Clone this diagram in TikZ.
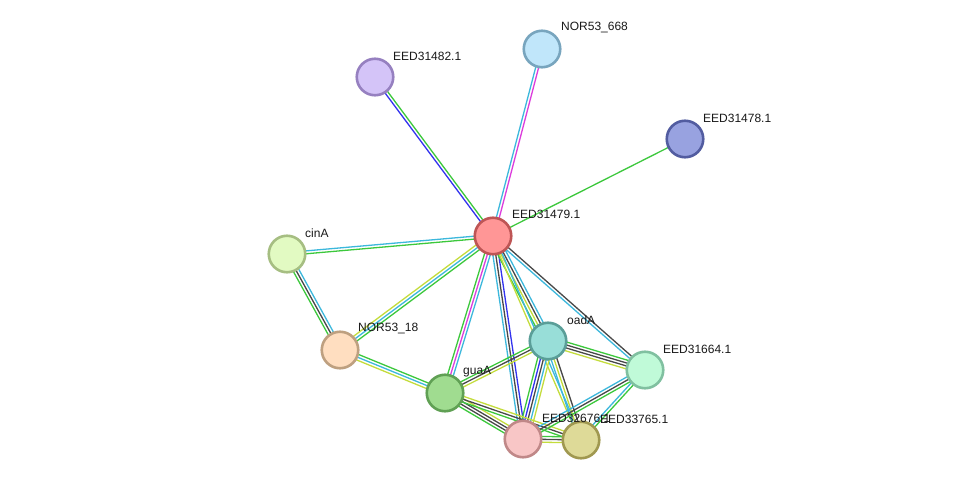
\documentclass[tikz,border=0pt]{standalone}
\usepackage{fontspec}
\setmainfont{Liberation Sans}
\usetikzlibrary{calc,backgrounds}
\definecolor{sgreen}{HTML}{3CC83C}
\definecolor{scyan}{HTML}{3CB8DC}
\definecolor{sblue}{HTML}{3232EE}
\definecolor{smag}{HTML}{DC3CDC}
\definecolor{sblack}{HTML}{484848}
\definecolor{syel}{HTML}{C4DC3C}
\tikzset{
  prot/.style={circle, minimum size=36.5pt, inner sep=0pt, line width=2.6pt},
  lbl/.style={anchor=west, font=\fontsize{12pt}{14pt}\selectfont, inner sep=0pt, text=black!90},
}
\newcommand\stredge[4]{%
  \foreach \cc [count=\ii] in {#4} {%
    \pgfmathsetmacro\off{(\ii-(#3+1)/2)*2.9}%
    \draw[color=\cc, line width=1.3pt] ($(#1)!\off pt!90:(#2)$) -- ($(#2)!\off pt!-90:(#1)$);
  }%
}
\begin{document}
\begin{tikzpicture}[x=1pt,y=-1pt]
\useasboundingbox (0,0) rectangle (976,486);
% nodes
\node[prot, fill={rgb,255:red,255;green,150;blue,150}, draw={rgb,255:red,190;green,85;blue,85}] (c) at (493,236) {};
\node[prot, fill={rgb,255:red,192;green,230;blue,250}, draw={rgb,255:red,120;green,165;blue,190}] (n668) at (542,49) {};
\node[prot, fill={rgb,255:red,212;green,196;blue,248}, draw={rgb,255:red,150;green,128;blue,192}] (e82) at (375,77) {};
\node[prot, fill={rgb,255:red,152;green,162;blue,224}, draw={rgb,255:red,82;green,92;blue,160}] (e78) at (685,139) {};
\node[prot, fill={rgb,255:red,226;green,250;blue,194}, draw={rgb,255:red,166;green,190;blue,130}] (cina) at (287,254) {};
\node[prot, fill={rgb,255:red,255;green,222;blue,192}, draw={rgb,255:red,190;green,160;blue,128}] (n18) at (340,350) {};
\node[prot, fill={rgb,255:red,160;green,220;blue,144}, draw={rgb,255:red,96;green,160;blue,84}] (guaa) at (445,393) {};
\node[prot, fill={rgb,255:red,152;green,222;blue,216}, draw={rgb,255:red,90;green,158;blue,152}] (oada) at (548,341) {};
\node[prot, fill={rgb,255:red,192;green,250;blue,216}, draw={rgb,255:red,128;green,192;blue,160}] (e64) at (645,370) {};
\node[prot, fill={rgb,255:red,248;green,198;blue,198}, draw={rgb,255:red,192;green,136;blue,136}] (e76) at (523,439) {};
\node[prot, fill={rgb,255:red,222;green,218;blue,152}, draw={rgb,255:red,160;green,152;blue,80}] (e65) at (581,440) {};
% labels
\node[lbl] (l1) at (512,214) {EED31479.1};
\node[lbl] (l2) at (561,28) {NOR53\_668};
\node[lbl] (l3) at (393,56) {EED31482.1};
\node[lbl] (l4) at (703,118) {EED31478.1};
\node[lbl] (l5) at (305,233) {cinA};
\node[lbl] (l6) at (358,329) {NOR53\_18};
\node[lbl] (l7) at (463,372) {guaA};
\node[lbl] (l8) at (567,320) {oadA};
\node[lbl] (l9) at (663,349) {EED31664.1};
\node[lbl] (l10) at (542,418) {EED32676.1};
\node[lbl] (l11) at (600,419) {EED33765.1};
\begin{pgfonlayer}{background}
\fill[white] (0,0) rectangle (976,486);
\stredge{c}{e82}{2}{sgreen,sblue}
\stredge{c}{n668}{2}{smag,scyan}
\stredge{c}{e78}{1}{sgreen}
\stredge{c}{cina}{2}{scyan,sgreen}
\stredge{cina}{n18}{3}{sgreen,sblack,scyan}
\stredge{c}{n18}{3}{syel,scyan,sgreen}
\stredge{n18}{guaa}{3}{syel,scyan,sgreen}
\stredge{c}{guaa}{3}{sgreen,smag,scyan}
\stredge{c}{e76}{3}{scyan,sblack,sblue}
\stredge{c}{oada}{4}{sgreen,syel,sblack,scyan}
\stredge{c}{e65}{2}{syel,scyan}
\stredge{c}{e64}{2}{scyan,sblack}
\stredge{oada}{guaa}{3}{sgreen,sblack,syel}
\stredge{oada}{e64}{4}{syel,sblack,sblack,sgreen}
\stredge{oada}{e76}{5}{sgreen,sblue,sblack,scyan,syel}
\stredge{oada}{e65}{3}{scyan,syel,sblack}
\stredge{guaa}{e76}{4}{sgreen,sblack,sblack,syel}
\stredge{guaa}{e65}{3}{sgreen,sblack,syel}
\stredge{e64}{e76}{3}{scyan,sblack,sgreen}
\stredge{e64}{e65}{2}{scyan,sgreen}
\stredge{e76}{e65}{3}{syel,sblack,sgreen}
\end{pgfonlayer}
\end{tikzpicture}
\end{document}
